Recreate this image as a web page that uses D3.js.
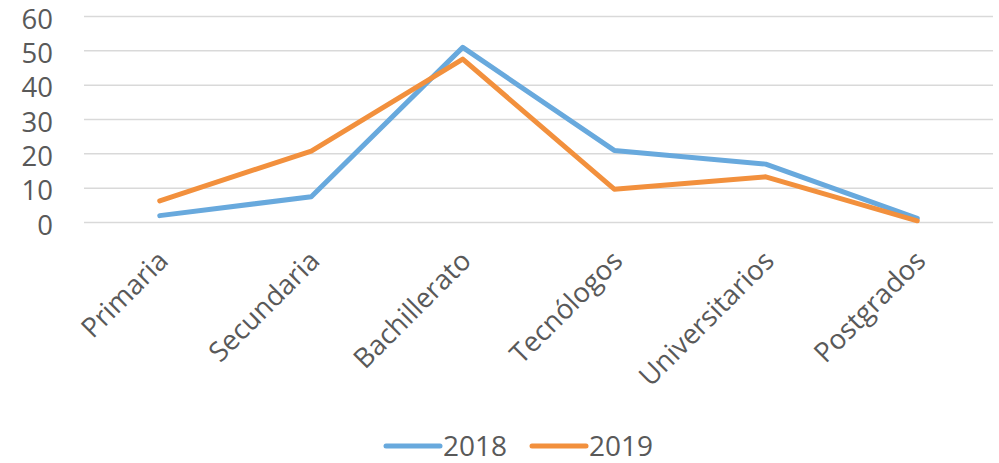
<!DOCTYPE html>
<html>
<head>
<meta charset="utf-8">
<script src="https://cdn.jsdelivr.net/npm/d3@7"></script>
<style>
  body { margin: 0; background: #fff; }
  text { font-family: "Open Sans", sans-serif; fill: #595959; }
</style>
</head>
<body>
<svg id="chart" width="999" height="463"></svg>
<script>
// categories and series
const categories = ["Primaria", "Secundaria", "Bachillerato", "Tecnólogos", "Universitarios", "Postgrados"];
const years = ["2018", "2019"];
const values2018 = [2, 7.5, 51, 21, 17, 1.2];
const values2019 = [6.3, 20.8, 47.6, 9.7, 13.3, 0.5];
const yTicks = [0, 10, 20, 30, 40, 50, 60];
const colors = ["#68A9DD", "#F2903D"];

const svg = d3.select("#chart");
const margin = { left: 84, right: 6, top: 16.5, bottom: 240.5 };
const width = 999 - margin.left - margin.right;
const height = 463 - margin.top - margin.bottom;

const g = svg.append("g").attr("transform", `translate(${margin.left},${margin.top})`);

const x = d3.scaleBand().domain(categories).range([0, width]);
const y = d3.scaleLinear().domain([0, 60]).range([height, 0]);

// gridlines
g.selectAll(".grid")
    .data(yTicks)
    .enter().append("line")
    .attr("class", "grid")
    .attr("x1", 0).attr("x2", width)
    .attr("y1", d => y(d)).attr("y2", d => y(d))
    .attr("stroke", "#d9d9d9")
    .attr("stroke-width", 1.5);

// y axis labels
const yAxis = g.append("g")
    .call(d3.axisLeft(y).tickValues(yTicks).tickSize(0).tickPadding(31));
yAxis.select(".domain").remove();
yAxis.selectAll("text")
    .attr("font-size", 27.5)
    .attr("fill", "#595959")
    .attr("font-family", "Open Sans, sans-serif")
    .attr("dy", "0.42em");

// x axis labels, rotated
const xAxis = g.append("g")
    .attr("transform", `translate(0,${height})`)
    .call(d3.axisBottom(x).tickSize(0).tickPadding(0));
xAxis.select(".domain").remove();
xAxis.selectAll("text")
    .attr("font-size", 27.5)
    .attr("fill", "#595959")
    .attr("font-family", "Open Sans, sans-serif")
    .attr("text-anchor", "end")
    .attr("dy", 0)
    .attr("transform", "translate(10,40) rotate(-45)");

// lines
const series = [values2018, values2019];
const line = d3.line()
    .x((d, i) => x(categories[i]) + x.bandwidth() / 2)
    .y(d => y(d));

g.selectAll(".series")
    .data(series)
    .enter().append("path")
    .attr("class", "series")
    .attr("d", d => line(d))
    .attr("fill", "none")
    .attr("stroke", (d, i) => colors[i])
    .attr("stroke-width", 5)
    .attr("stroke-linejoin", "round")
    .attr("stroke-linecap", "round");

// legend
const legend = svg.append("g").attr("transform", "translate(386,446)");
const item = legend.selectAll(".item")
    .data(years)
    .enter().append("g")
    .attr("class", "item")
    .attr("transform", (d, i) => `translate(${i * 146},0)`);
item.append("line")
    .attr("x1", 0).attr("x2", 54)
    .attr("stroke", (d, i) => colors[i])
    .attr("stroke-width", 5)
    .attr("stroke-linecap", "round");
item.append("text")
    .attr("x", 57)
    .attr("dy", "0.36em")
    .attr("font-size", 28)
    .text(d => d);
</script>
</body>
</html>
